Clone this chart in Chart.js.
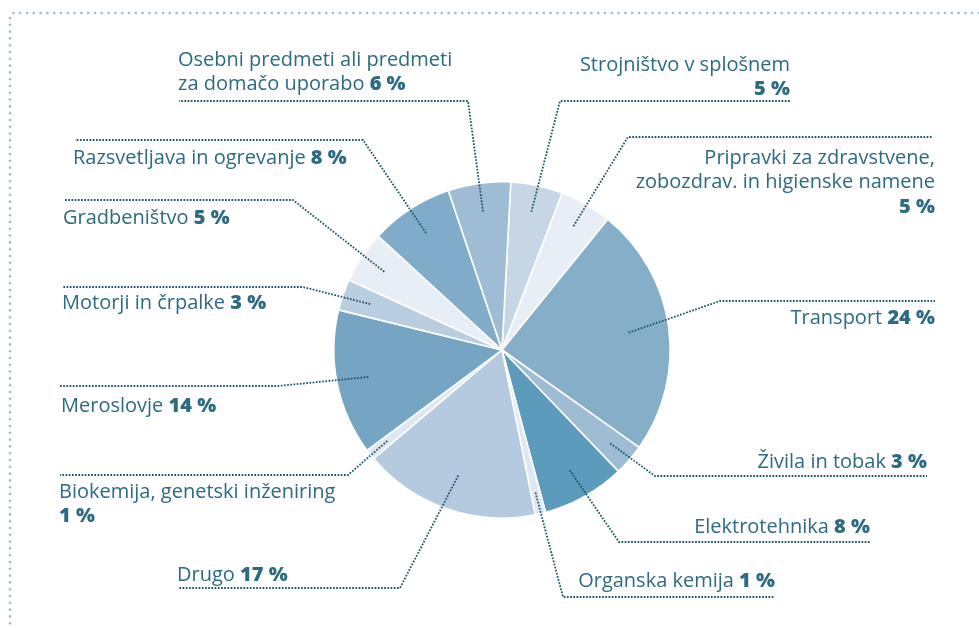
<!DOCTYPE html>
<html>
<head>
<meta charset="utf-8">
<script src="https://cdn.jsdelivr.net/npm/chart.js@4/dist/chart.umd.min.js"></script>
<style>
  html, body { margin: 0; padding: 0; background: #fff; }
  canvas { display: block; }
</style>
</head>
<body>
<canvas id="pieChart" width="979" height="628"></canvas>
<script>
// data, clockwise from 12 o'clock
var categories = [
  'Strojništvo v splošnem',
  'Pripravki za zdravstvene, zobozdrav. in higienske namene',
  'Transport',
  'Živila in tobak',
  'Elektrotehnika',
  'Organska kemija',
  'Drugo',
  'Biokemija, genetski inženiring',
  'Meroslovje',
  'Motorji in črpalke',
  'Gradbeništvo',
  'Razsvetljava in ogrevanje',
  'Osebni predmeti ali predmeti za domačo uporabo'
];
var shares = [5, 5, 24, 3, 8, 1, 17, 1, 14, 3, 5, 8, 6];

// how the names wrap; the percentage goes after the last line
var labelLines = [
  ['Strojništvo v splošnem', ''],
  ['Pripravki za zdravstvene,', 'zobozdrav. in higienske namene', ''],
  ['Transport'],
  ['Živila in tobak'],
  ['Elektrotehnika'],
  ['Organska kemija'],
  ['Drugo'],
  ['Biokemija, genetski inženiring', ''],
  ['Meroslovje'],
  ['Motorji in črpalke'],
  ['Gradbeništvo'],
  ['Razsvetljava in ogrevanje'],
  ['Osebni predmeti ali predmeti', 'za domačo uporabo']
];

var sliceColors = [
  '#c6d6e4', '#e7eef5', '#85aec9', '#9ebcd3', '#5c9bbb', '#dfe8f1', '#b5cadf',
  '#dfe8f1', '#75a5c3', '#b9cee0', '#e7eef5', '#81acc9', '#9ebcd3'
];

// leader line layout: depth = where the dotted line starts inside the slice (share of radius),
// elbow = bend point, end = x where the horizontal run stops, text = first line position
var labelLayout = [
  { depth: 0.84, elbow: [560, 101], end: 791, align: 'right', tx: 790, ty: 65 },
  { depth: 0.85, elbow: [628, 137], end: 933, align: 'right', tx: 935, ty: 158 },
  { depth: 0.76, elbow: [720, 301], end: 935, align: 'right', tx: 935, ty: 318 },
  { depth: 0.85, elbow: [655, 476], end: 927, align: 'right', tx: 927, ty: 462 },
  { depth: 0.82, elbow: [619, 542], end: 870, align: 'right', tx: 870, ty: 527 },
  { depth: 0.87, elbow: [563, 597], end: 774, align: 'right', tx: 775, ty: 581 },
  { depth: 0.79, elbow: [400, 588], end: 178, align: 'left', tx: 177, ty: 575 },
  { depth: 0.87, elbow: [348, 475], end: 60, align: 'left', tx: 59, ty: 492 },
  { depth: 0.81, elbow: [278, 386], end: 60, align: 'left', tx: 61, ty: 406 },
  { depth: 0.83, elbow: [303, 287], end: 62, align: 'left', tx: 62, ty: 303 },
  { depth: 0.84, elbow: [293, 200], end: 65, align: 'left', tx: 63, ty: 218 },
  { depth: 0.83, elbow: [363, 140], end: 75, align: 'left', tx: 73, ty: 158 },
  { depth: 0.83, elbow: [468, 101], end: 179, align: 'left', tx: 178, ty: 60 }
];

var textColor = '#2c6b81';
var leaderColor = '#1b5469';
var frameColor = '#9ab8cf';
var fontFamily = '"Open Sans", sans-serif';
var fontSize = 20;
var lineGap = 24.5;

var leaderPlugin = {
  id: 'leaders',
  afterDraw: function(chart) {
    var ctx = chart.ctx;
    var arcs = chart.getDatasetMeta(0).data;
    ctx.save();

    // dotted frame, top and left
    ctx.strokeStyle = frameColor;
    ctx.lineWidth = 2.6;
    ctx.lineCap = 'round';
    ctx.setLineDash([0, 6.8]);
    ctx.beginPath();
    ctx.moveTo(979, 13);
    ctx.lineTo(12, 13);
    ctx.lineTo(10, 18);
    ctx.lineTo(10, 628);
    ctx.stroke();

    arcs.forEach(function(arc, i) {
      var L = labelLayout[i];
      var mid = (arc.startAngle + arc.endAngle) / 2;
      var r = arc.outerRadius * L.depth;
      var ax = arc.x + Math.cos(mid) * r;
      var ay = arc.y + Math.sin(mid) * r;

      ctx.strokeStyle = leaderColor;
      ctx.lineWidth = 1.8;
      ctx.lineCap = 'butt';
      ctx.setLineDash([1.7, 1.5]);
      ctx.beginPath();
      ctx.moveTo(ax, ay);
      ctx.lineTo(L.elbow[0], L.elbow[1]);
      ctx.lineTo(L.end, L.elbow[1]);
      ctx.stroke();

      // text
      ctx.setLineDash([]);
      ctx.fillStyle = textColor;
      ctx.textBaseline = 'middle';
      ctx.textAlign = 'left';
      var lines = labelLines[i];
      lines.forEach(function(line, k) {
        var y = L.ty + k * lineGap;
        var isLast = k === lines.length - 1;
        var normal = line;
        var bold = isLast ? shares[i] + ' %' : '';
        if (isLast && line !== '') normal = line + ' ';
        ctx.font = fontSize + 'px ' + fontFamily;
        var wn = ctx.measureText(normal).width;
        ctx.font = '800 ' + fontSize + 'px ' + fontFamily;
        var wb = bold ? ctx.measureText(bold).width : 0;
        var x = L.align === 'right' ? L.tx - wn - wb : L.tx;
        ctx.font = fontSize + 'px ' + fontFamily;
        ctx.fillText(normal, x, y);
        if (bold) {
          ctx.font = '800 ' + fontSize + 'px ' + fontFamily;
          ctx.fillText(bold, x + wn, y);
        }
      });
    });

    ctx.restore();
  }
};

var ctx = document.getElementById('pieChart').getContext('2d');
var myChart = new Chart(ctx, {
  type: 'pie',
  data: {
    labels: categories,
    datasets: [{
      data: shares,
      backgroundColor: sliceColors,
      borderColor: '#ffffff',
      borderWidth: 1.6
    }]
  },
  options: {
    responsive: false,
    animation: false,
    rotation: 3,
    layout: { padding: { left: 333, right: 308, top: 181, bottom: 109 } },
    plugins: {
      legend: { display: false },
      tooltip: { enabled: false }
    }
  },
  plugins: [leaderPlugin]
});
</script>
</body>
</html>
